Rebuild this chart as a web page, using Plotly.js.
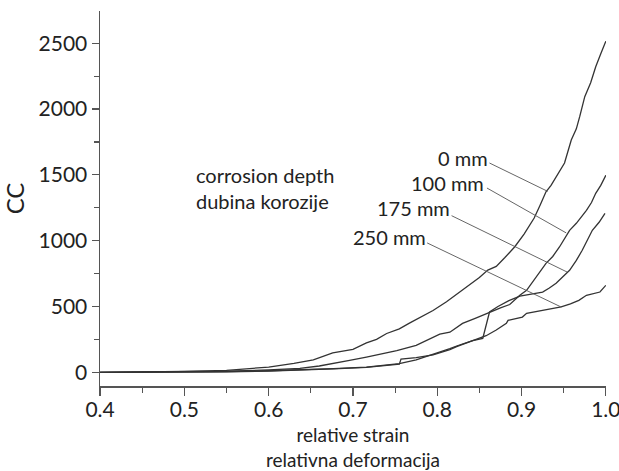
<!DOCTYPE html>
<html>
<head>
<meta charset="utf-8">
<script src="https://cdn.plot.ly/plotly-3.0.1.min.js"></script>
<style>
  html, body { margin: 0; padding: 0; background: #fff; }
  #chart { width: 619px; height: 471px; }
</style>
</head>
<body>
<div id="chart"></div>
<script>
// relative strain (x) and CC (y) for each corrosion depth
const strain0 = [0.40, 0.45, 0.50, 0.55, 0.58, 0.60, 0.63, 0.653, 0.676, 0.70, 0.716, 0.728, 0.74, 0.755, 0.767, 0.78, 0.795, 0.811, 0.825, 0.838, 0.85, 0.86, 0.87, 0.88, 0.892, 0.903, 0.915, 0.922, 0.929, 0.935, 0.943, 0.951, 0.959, 0.965, 0.969, 0.975, 0.982, 0.988, 0.994, 1.0];
const cc0     = [0, 3, 7, 15, 27, 40, 68, 94, 147, 175, 223, 250, 295, 330, 374, 420, 470, 536, 600, 663, 720, 777, 805, 870, 954, 1050, 1172, 1270, 1372, 1420, 1500, 1590, 1765, 1850, 1942, 2094, 2200, 2322, 2420, 2515];

const strain100 = [0.40, 0.50, 0.55, 0.60, 0.637, 0.66, 0.677, 0.696, 0.716, 0.736, 0.752, 0.775, 0.79, 0.803, 0.815, 0.83, 0.845, 0.862, 0.875, 0.886, 0.898, 0.906, 0.917, 0.929, 0.937, 0.945, 0.957, 0.965, 0.977, 0.983, 0.988, 0.994, 1.0];
const cc100     = [0, 2, 8, 18, 30, 48, 66, 90, 116, 142, 165, 205, 250, 290, 305, 372, 410, 458, 490, 515, 585, 623, 724, 828, 880, 952, 1079, 1132, 1231, 1290, 1360, 1420, 1497];

const strain175 = [0.40, 0.50, 0.55, 0.60, 0.637, 0.677, 0.716, 0.74, 0.755, 0.775, 0.795, 0.815, 0.823, 0.842, 0.854, 0.858, 0.862, 0.872, 0.885, 0.898, 0.909, 0.925, 0.933, 0.941, 0.957, 0.965, 0.972, 0.984, 0.992, 0.999];
const cc175     = [0, 1, 5, 12, 17, 28, 40, 55, 66, 95, 135, 180, 200, 240, 258, 360, 458, 500, 545, 578, 590, 610, 640, 676, 775, 850, 927, 1079, 1140, 1208];

const strain250 = [0.40, 0.50, 0.55, 0.60, 0.637, 0.677, 0.716, 0.755, 0.757, 0.775, 0.795, 0.815, 0.823, 0.842, 0.858, 0.87, 0.876, 0.882, 0.884, 0.893, 0.901, 0.906, 0.925, 0.947, 0.958, 0.968, 0.977, 0.985, 0.993, 1.0];
const cc250     = [0, 1, 4, 10, 15, 26, 38, 62, 100, 112, 132, 172, 195, 240, 278, 321, 345, 372, 395, 410, 420, 448, 471, 497, 520, 547, 585, 595, 610, 661];

const depthLabels = ['0 mm', '100 mm', '175 mm', '250 mm'];

const xTickVals = [0.4, 0.5, 0.6, 0.7, 0.8, 0.9, 1.0];
const xTickText = ['0.4', '0.5', '0.6', '0.7', '0.8', '0.9', '1.0'];
const yTickVals = [0, 500, 1000, 1500, 2000, 2500];
const yTickText = ['0', '500', '1000', '1500', '2000', '2500'];

const FONT = 'Lato, "Open Sans", "DejaVu Sans", sans-serif';
const lineStyle = { color: '#333333', width: 1.3, shape: 'linear' };

const series = [
  [strain0, cc0], [strain100, cc100], [strain175, cc175], [strain250, cc250]
];
const traces = series.map((s, i) => ({
  x: s[0], y: s[1], type: 'scatter', mode: 'lines',
  name: depthLabels[i], line: lineStyle, hoverinfo: 'x+y+name'
}));

// label placements (text right edge) and leader line endpoints
const labelPos = [[0.862, 1628], [0.858, 1438], [0.818, 1248], [0.789, 1028]];
const leaderFrom = [[0.862, 1590], [0.859, 1400], [0.817, 1190], [0.788, 983]];
const leaderTo = [[0.931, 1375], [0.953, 1059], [0.954, 762], [0.947, 496]];

const annotations = depthLabels.map((t, i) => ({
  x: labelPos[i][0], y: labelPos[i][1], xref: 'x', yref: 'y',
  text: t, showarrow: false, xanchor: 'right', yanchor: 'middle',
  font: { family: FONT, size: 20, color: '#222' }
}));
annotations.push({
  x: 0.511, y: 1400, xref: 'x', yref: 'y',
  text: 'corrosion depth<br>dubina korozije', showarrow: false,
  xanchor: 'left', yanchor: 'middle', align: 'left',
  font: { family: FONT, size: 20, color: '#222' }
});

const shapes = depthLabels.map((t, i) => ({
  type: 'line', xref: 'x', yref: 'y',
  x0: leaderFrom[i][0], y0: leaderFrom[i][1],
  x1: leaderTo[i][0], y1: leaderTo[i][1],
  line: { color: '#555', width: 0.9 }
}));

const layout = {
  width: 619, height: 471,
  margin: { l: 100, r: 13, t: 11, b: 85 },
  paper_bgcolor: '#fff', plot_bgcolor: '#fff',
  showlegend: false,
  font: { family: FONT, color: '#222' },
  xaxis: {
    range: [0.3999, 1.0002],
    tickvals: xTickVals, ticktext: xTickText,
    ticks: 'outside', ticklen: 8, tickwidth: 1.2, tickcolor: '#555',
    minor: { dtick: 0.05, tick0: 0.4, ticks: 'outside', ticklen: 5, tickwidth: 1.2, tickcolor: '#555' },
    showline: true, linecolor: '#555', linewidth: 1.5,
    showgrid: false, zeroline: false,
    tickfont: { family: FONT, size: 21, color: '#222' },
    ticklabelstandoff: -4,
    ticklabeloverflow: 'allow',
    title: { text: 'relative strain<br>relativna deformacija', font: { family: FONT, size: 19, color: '#222' }, standoff: 12 }
  },
  yaxis: {
    range: [-104, 2745],
    tickvals: yTickVals, ticktext: yTickText,
    ticks: 'outside', ticklen: 7, tickwidth: 1.2, tickcolor: '#555',
    minor: { dtick: 250, tick0: 0, ticks: 'outside', ticklen: 5, tickwidth: 1.2, tickcolor: '#555' },
    showline: true, linecolor: '#555', linewidth: 1.5,
    showgrid: false, zeroline: false,
    tickfont: { family: FONT, size: 21, color: '#222' },
    title: { text: 'CC', font: { family: FONT, size: 24, color: '#222' }, standoff: 8 }
  },
  annotations: annotations,
  shapes: shapes
};

Plotly.newPlot('chart', traces, layout, { displayModeBar: false, staticPlot: true });
</script>
</body>
</html>
